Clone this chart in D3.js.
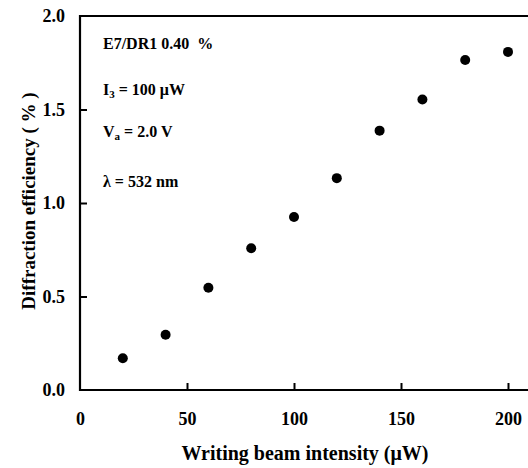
<!DOCTYPE html>
<html><head><meta charset="utf-8">
<script src="https://cdn.jsdelivr.net/npm/d3@7"></script>
<style>body{margin:0;background:#fff}</style>
</head><body><svg id="c" width="528" height="468"></svg>
<script>
const intensity = [20, 40, 60, 80, 100, 120, 140, 160, 180, 200];
const efficiency = [0.17, 0.295, 0.547, 0.758, 0.925, 1.133, 1.387, 1.553, 1.765, 1.808];
const xTicks = [0, 50, 100, 150, 200];
const yTicks = [0.0, 0.5, 1.0, 1.5, 2.0];

const FONT = "'Liberation Serif', 'Times New Roman', Times, serif";
const svg = d3.select("#c");
const L = 80, R = 528, T = 16, B = 390;
const x = d3.scaleLinear().domain([0, 200]).range([L, 508]);
const y = d3.scaleLinear().domain([0, 2]).range([B, T]);

function styleText(sel, size) {
  return sel.style("font-family", FONT).style("font-weight", "bold").style("font-size", size + "px").attr("fill", "#000");
}

// axes
const xa = svg.append("g").attr("transform", `translate(0,${B})`)
  .call(d3.axisBottom(x).tickValues(xTicks).tickSize(-7).tickPadding(22).tickFormat(d3.format("d")));
const ya = svg.append("g").attr("transform", `translate(${L},0)`)
  .call(d3.axisLeft(y).tickValues(yTicks).tickSize(-7).tickPadding(15).tickFormat(d3.format(".1f")));
[xa, ya].forEach(g => {
  g.select(".domain").remove();
  g.selectAll(".tick line").attr("stroke", "#000").attr("stroke-width", 2);
  styleText(g.selectAll(".tick text"), 18);
});
xa.selectAll(".tick").filter(d => d === 0).select("line").remove();
ya.selectAll(".tick").filter(d => d === 0 || d === 2).select("line").remove();

// frame lines
svg.append("line").attr("x1", L - 1).attr("x2", R).attr("y1", B).attr("y2", B).attr("stroke", "#000").attr("stroke-width", 2.2);
svg.append("line").attr("x1", L).attr("x2", L).attr("y1", T - 1).attr("y2", B + 1).attr("stroke", "#000").attr("stroke-width", 2.2);
svg.append("line").attr("x1", L - 1).attr("x2", R).attr("y1", T).attr("y2", T).attr("stroke", "#000").attr("stroke-width", 2.2);

// points
svg.append("g").selectAll("circle").data(intensity).join("circle")
  .attr("cx", d => x(d)).attr("cy", (d, i) => y(efficiency[i])).attr("r", 5).attr("fill", "#000");

// annotations
const ax = 103, fs = 16;
styleText(svg.append("text").attr("x", ax).attr("y", 49), fs).text("E7/DR1 0.40\u00a0 %");
const t2 = styleText(svg.append("text").attr("x", ax).attr("y", 95), fs);
t2.append("tspan").text("I");
t2.append("tspan").style("font-size", "11px").attr("dy", 3).text("3");
t2.append("tspan").attr("dy", -3).text(" = 100 \u03bcW");
const t3 = styleText(svg.append("text").attr("x", ax).attr("y", 137), fs);
t3.append("tspan").text("V");
t3.append("tspan").style("font-size", "11px").attr("dy", 3).text("a");
t3.append("tspan").attr("dy", -3).text(" = 2.0 V");
styleText(svg.append("text").attr("x", ax).attr("y", 187), fs).text("\u03bb = 532 nm");

// titles
styleText(svg.append("text").attr("x", 305).attr("y", 460).attr("text-anchor", "middle"), 20).text("Writing beam intensity (\u03bcW)");
styleText(svg.append("text").attr("transform", "translate(35,201) rotate(-90)").attr("text-anchor", "middle"), 19).text("Diffraction efficiency (\u00a0%\u00a0)");
</script></body></html>
